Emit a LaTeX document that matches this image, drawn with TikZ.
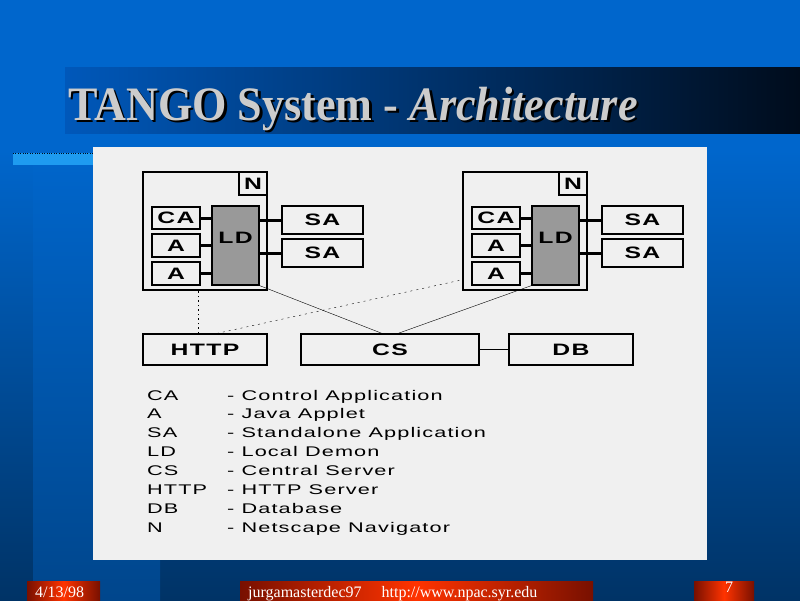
\documentclass[tikz,border=0pt]{standalone}
\usepackage{fontspec}
\setmainfont{Liberation Serif}
\newfontfamily\titlefont[FakeStretch=0.92]{Liberation Serif}
\newfontfamily\boxfont[FakeStretch=1.5,LetterSpace=8]{Liberation Sans}
\newfontfamily\legendfont[FakeStretch=1.55,LetterSpace=8]{Liberation Sans}
\definecolor{slidetop}{RGB}{0,102,204}
\definecolor{slidebot}{RGB}{0,51,102}
\definecolor{bandbot}{RGB}{0,70,140}
\definecolor{barblue}{RGB}{0,88,186}
\definecolor{bardark}{RGB}{0,12,28}
\definecolor{hatch}{RGB}{30,155,240}
\definecolor{panel}{RGB}{240,240,240}
\definecolor{ldgray}{RGB}{153,153,153}
\definecolor{titlegray}{RGB}{204,204,204}
\definecolor{footdark}{RGB}{120,16,0}
\definecolor{footlight}{RGB}{255,51,0}
\begin{document}
\begin{tikzpicture}[x=1pt,y=-1pt,
    box/.style={draw,line width=1.2pt,fill=panel,inner sep=0pt,
        font=\boxfont\bfseries\fontsize{16.5}{17}\selectfont},
    stub/.style={line width=3pt},
    legend/.style={anchor=base west,inner sep=0pt,
        font=\legendfont\fontsize{14}{16}\selectfont},
    foot/.style={anchor=base west,inner sep=0pt,text=white,
        font=\fontsize{16}{16}\selectfont}]
    \useasboundingbox (0,0) rectangle (800,600);
    %% Background
    \fill[slidetop] (0,0) rectangle (800,150);
    \shade[top color=slidetop,bottom color=slidebot] (0,150) rectangle (800,600);
    \shade[top color=slidetop,bottom color=bandbot] (33,150) rectangle (160,600);
    %% Title
    \shade[left color=barblue,right color=bardark] (65,67) rectangle (800,133);
    \node (titleshadow) [anchor=base west,inner sep=0pt,text=black,
        font=\titlefont\fontsize{48}{48}\selectfont] at (70.5,122.5)
        {\bfseries TANGO System - {\itshape Architecture}};
    \node (title) [anchor=base west,inner sep=0pt,text=titlegray,
        font=\titlefont\fontsize{48}{48}\selectfont] at (68,120)
        {\bfseries TANGO System - {\itshape Architecture}};
    %% Panel
    \fill[hatch] (13,153) rectangle (93,165);
    \draw[bardark,dotted] (13,153) -- (93,153);
    \fill[panel] (93,147) rectangle (707,560);
    %% Navigators
    \foreach \dx/\s in {0/L,320/R} {
        \node (n\s) [box,line width=1.6pt,minimum width=124pt,minimum height=118pt] at (205+\dx,231) {};
        \node (nl\s) [box,minimum width=28pt,minimum height=23pt] at (253+\dx,183.5) {N};
        \node (ca\s) [box,minimum width=48pt,minimum height=22pt] at (176+\dx,218) {CA};
        \node (a\s) [box,minimum width=48pt,minimum height=23pt] at (176+\dx,245.5) {A};
        \node (aa\s) [box,minimum width=48pt,minimum height=23pt] at (176+\dx,273.5) {A};
        \node (ld\s) [box,fill=ldgray,minimum width=47pt,minimum height=79pt,
            label={[box,draw=none,fill=none,yshift=7.5pt]center:LD}] at (235.5+\dx,245.5) {};
        \node (sa\s) [box,minimum width=81pt,minimum height=28pt] at (322.5+\dx,220) {SA};
        \node (sb\s) [box,minimum width=81pt,minimum height=28pt] at (322.5+\dx,253) {SA};
        \draw[stub] (ca\s.east) -- (ca\s.east -| ld\s.west);
        \draw[stub] (a\s.east) -- (a\s.east -| ld\s.west);
        \draw[stub] (aa\s.east) -- (aa\s.east -| ld\s.west);
        \draw[stub] (sa\s.west -| ld\s.east) -- (sa\s.west);
        \draw[stub] (sb\s.west -| ld\s.east) -- (sb\s.west);
    }
    %% Servers
    \node (http) [box,minimum width=124pt,minimum height=31pt] at (205,349.5) {HTTP};
    \node (cs) [box,minimum width=178pt,minimum height=31pt] at (390,349.5) {CS};
    \node (db) [box,minimum width=124pt,minimum height=31pt] at (571,349.5) {DB};
    \draw (cs.east) -- (db.west);
    \draw (ldL.south east) -- ([xshift=-8pt]cs.north);
    \draw (ldR.south west) -- ([xshift=8pt]cs.north);
    \draw[dash pattern=on 1.5pt off 3pt] ([xshift=-7pt]http.north) -- ([xshift=-7pt]http.north |- nL.south);
    \draw[dash pattern=on 2pt off 4pt] ([xshift=12pt]http.north) -- ([yshift=11pt]nR.south west);
    %% Legend
    \foreach \ab/\txt [count=\i from 0] in {CA/Control Application,A/Java Applet,
        SA/Standalone Application,LD/Local Demon,CS/Central Server,
        HTTP/HTTP Server,DB/Database,N/Netscape Navigator} {
        \node (k\i) [legend] at (147,400+18.86*\i) {\ab};
        \node (v\i) [legend] at (227,400+18.86*\i) {- \txt};
    }
    %% Footer
    \shade[left color=footdark,right color=footdark,middle color=footlight] (27,581) rectangle (100,600);
    \shade[left color=footdark,right color=footdark,middle color=footlight] (240,581) rectangle (593,600);
    \shade[left color=footdark,right color=footdark,middle color=footlight] (694,581) rectangle (754,600);
    \node (date) [foot] at (35,597.5) {4/13/98};
    \node (author) [foot] at (248,597.5) {jurgamasterdec97\hspace{20pt}http://www.npac.syr.edu};
    \node (page) [foot] at (725,592) {7};
\end{tikzpicture}
\end{document}
